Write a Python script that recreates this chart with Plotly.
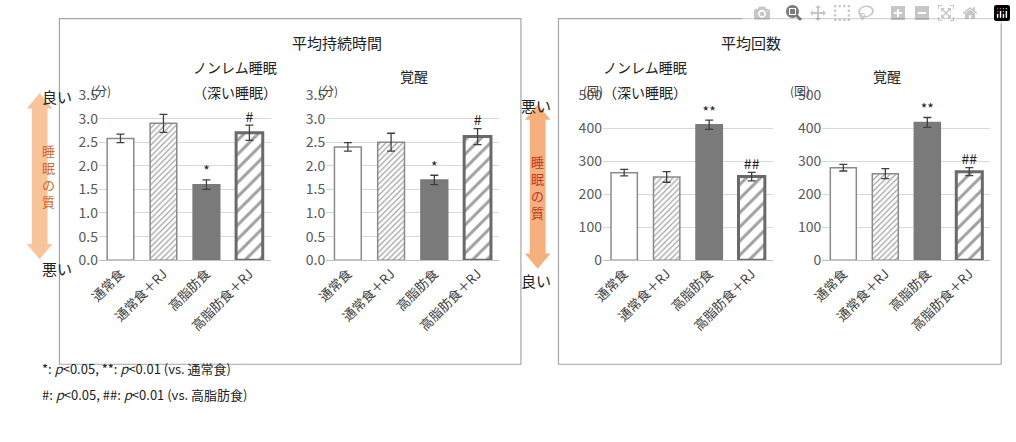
import plotly.graph_objects as go

cats = ["通常食", "通常食＋RJ", "高脂肪食", "高脂肪食＋RJ"]
nrem_dur = [2.58, 2.90, 1.60, 2.70]
nrem_dur_err = [0.09, 0.19, 0.10, 0.16]
wake_dur = [2.40, 2.50, 1.70, 2.62]
wake_dur_err = [0.09, 0.19, 0.10, 0.17]
nrem_cnt = [265, 252, 410, 253]
nrem_cnt_err = [10, 16, 14, 13]
wake_cnt = [280, 262, 417, 268]
wake_cnt_err = [10, 15, 15, 12]
marks_1 = ["", "", "*", "#"]
marks_2 = ["", "", "*", "#"]
marks_3 = ["", "", "**", "##"]
marks_4 = ["", "", "**", "##"]

FONT = "Noto Sans CJK JP"
W, H = 1016, 442
def px(x): return x / W
def py(y): return 1 - y / H

fig = go.Figure()
ydom = [py(261), py(88)]
panels = [
    (nrem_dur, nrem_dur_err, marks_1, [px(88), px(262)], [0, 3.5], 0.5, "(分)"),
    (wake_dur, wake_dur_err, marks_2, [px(318), px(493)], [0, 3.5], 0.5, "(分)"),
    (nrem_cnt, nrem_cnt_err, marks_3, [px(598), px(770)], [0, 500], 100, "(回)"),
    (wake_cnt, wake_cnt_err, marks_4, [px(820), px(990)], [0, 500], 100, "(回)"),
]
for i, (vals, errs, marks, xd, yr, dt, unit) in enumerate(panels, start=1):
    xa = "x" if i == 1 else f"x{i}"
    ya = "y" if i == 1 else f"y{i}"
    fig.add_trace(go.Bar(
        x=cats, y=vals, xaxis=xa, yaxis=ya, width=0.62,
        error_y=dict(type="data", array=errs, color="#404040", thickness=1.3, width=4),
        marker=dict(
            color=["white", "white", "#7a7a7a", "white"],
            line=dict(color=["#8a8a8a", "#8a8a8a", "#7a7a7a", "#6a6a6a"], width=[1.5, 1.5, 1.5, 3]),
            pattern=dict(shape=["", "/", "", "/"], fgcolor=["#999", "#999", "#7a7a7a", "#555"],
                         size=[6, 4, 6, 10], solidity=[0.2, 0.3, 0.2, 0.3]),
        ),
        showlegend=False,
    ))
    fig.add_trace(go.Scatter(
        x=cats, y=[v + e for v, e in zip(vals, errs)], text=marks, mode="text",
        textposition="top center", textfont=dict(size=14, color="#222", family=FONT),
        xaxis=xa, yaxis=ya, showlegend=False, cliponaxis=False,
    ))
    sfx = "" if i == 1 else str(i)
    fig.update_layout(**{
        f"xaxis{sfx}": dict(domain=xd, anchor=ya, tickangle=-45, showline=True, linecolor="#bfbfbf",
                            ticks="", tickfont=dict(size=13, color="#404040", family=FONT)),
        f"yaxis{sfx}": dict(domain=ydom, anchor=xa, range=yr, dtick=dt, showgrid=True,
                            gridcolor="#d9d9d9", zeroline=False, ticks="",
                            tickformat=".1f" if dt < 1 else "d",
                            tickfont=dict(size=14, color="#595959", family=FONT)),
    })
    fig.add_annotation(x=xd[0] - px(10), y=py(72), xref="paper", yref="paper", text=unit,
                       showarrow=False, font=dict(size=12, color="#404040", family=FONT))

# boxes
fig.add_shape(type="rect", xref="paper", yref="paper", x0=px(48), x1=px(515), y0=py(370), y1=py(8),
              line=dict(color="#a6a6a6", width=1.2))
fig.add_shape(type="rect", xref="paper", yref="paper", x0=px(553), x1=px(1001), y0=py(370), y1=py(8),
              line=dict(color="#a6a6a6", width=1.2))

texts = [
    (281, 20, "平均持続時間", 15), (780, 20, "平均回数", 15),
    (181, 46, "ノンレム睡眠", 14), (181, 72, "（深い睡眠）", 14),
    (407, 56, "覚醒", 14),
    (685, 46, "ノンレム睡眠", 14), (685, 72, "（深い睡眠）", 14),
    (902, 56, "覚醒", 14),
    (28, 76, "良い", 15), (28, 270, "悪い", 15),
    (530, 86, "悪い", 15), (530, 282, "良い", 15),
]
for x, y, t, s in texts:
    fig.add_annotation(x=px(x), y=py(y), xref="paper", yref="paper", text=t, showarrow=False,
                       font=dict(size=s, color="#222", family=FONT))

# double-headed orange arrows
def arrow(cx, top, bot, color):
    hw, sw, hh = 13, 8, 16
    path = (f"M {px(cx)},{py(top)} L {px(cx+hw)},{py(top+hh)} L {px(cx+sw)},{py(top+hh)} "
            f"L {px(cx+sw)},{py(bot-hh)} L {px(cx+hw)},{py(bot-hh)} L {px(cx)},{py(bot)} "
            f"L {px(cx-hw)},{py(bot-hh)} L {px(cx-sw)},{py(bot-hh)} L {px(cx-sw)},{py(top+hh)} "
            f"L {px(cx-hw)},{py(top+hh)} Z")
    fig.add_shape(type="path", xref="paper", yref="paper", path=path, fillcolor=color, line=dict(width=0))
arrow(28, 86, 260, "#f8c49c")
arrow(532, 98, 270, "#f5b07e")
fig.add_annotation(x=px(28), y=py(173), xref="paper", yref="paper", text="睡<br>眠<br>の<br>質",
                   showarrow=False, font=dict(size=13, color="#d2691e", family=FONT))
fig.add_annotation(x=px(532), y=py(184), xref="paper", yref="paper", text="睡<br>眠<br>の<br>質",
                   showarrow=False, font=dict(size=13, color="#c0392b", family=FONT))

fig.add_annotation(x=px(28), y=py(387), xref="paper", yref="paper", xanchor="left",
                   text="*: <i>p</i>&lt;0.05, **: <i>p</i>&lt;0.01 (vs. 通常食)", showarrow=False,
                   font=dict(size=13, color="#222", family=FONT))
fig.add_annotation(x=px(28), y=py(414), xref="paper", yref="paper", xanchor="left",
                   text="#: <i>p</i>&lt;0.05, ##: <i>p</i>&lt;0.01 (vs. 高脂肪食)", showarrow=False,
                   font=dict(size=13, color="#222", family=FONT))

fig.update_layout(autosize=True, margin=dict(l=0, r=0, t=0, b=0),
                  paper_bgcolor="white", plot_bgcolor="white", bargap=0.3)
fig.write_html("out.html", default_width="100vw", default_height="100vh",
               full_html=True, include_plotlyjs=True,
               post_script="document.body.style.margin='0';window.dispatchEvent(new Event('resize'));")
